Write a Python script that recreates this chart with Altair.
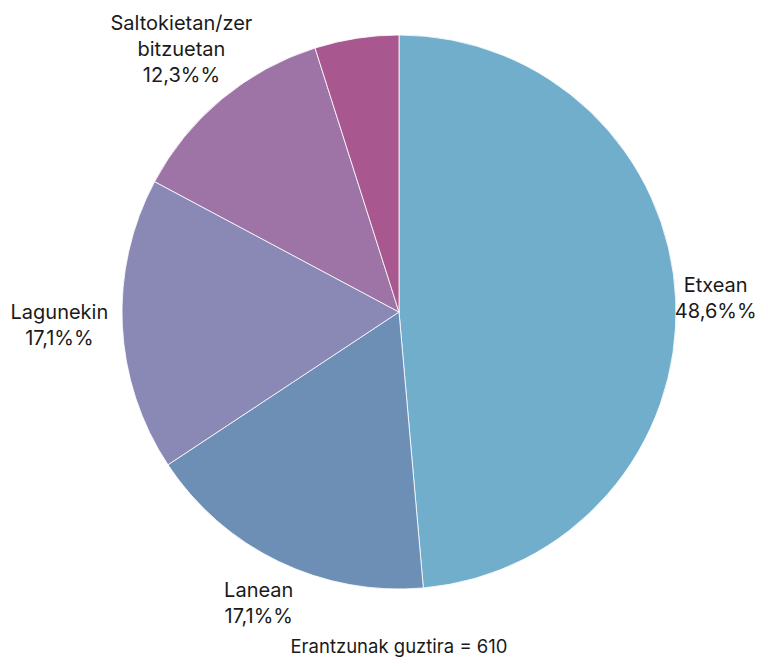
import altair as alt
import pandas as pd

categories = ["Etxean", "Lanean", "Lagunekin", "Saltokietan/zer bitzuetan", "Beste"]
values = [48.6, 17.1, 17.1, 12.3, 4.9]
labels = ["Etxean\n48,6%%", "Lanean\n17,1%%", "Lagunekin\n17,1%%", "Saltokietan/zer\nbitzuetan\n12,3%%", ""]
colors = ["#70AECB", "#6D8FB6", "#8A88B5", "#9E74A7", "#A8588E"]
footer = "Erantzunak guztira = 610"

df = pd.DataFrame({"cat": categories, "val": values, "label": labels, "order": list(range(len(categories)))})

FONT = "Inter"
cx, cy = 391, 304

base = alt.Chart(df).encode(
    theta=alt.Theta("val:Q", stack=True),
    order=alt.Order("order:Q"),
)

pie = base.mark_arc(stroke="white", strokeWidth=0.8, radius=277).encode(
    x=alt.value(cx),
    y=alt.value(cy),
    color=alt.Color("cat:N", scale=alt.Scale(domain=categories, range=colors), legend=None),
)

# per-label placement (radius, vertical shift) for the outside labels
placement = {0: (317, -12), 1: (323, -12), 2: (340, -15), 3: (340, -27)}

text_layers = []
for idx, (rad, dy) in placement.items():
    t = base.transform_calculate(
        shown=f"datum.order == {idx} ? datum.label : ''"
    ).mark_text(
        radius=rad, dy=dy, font=FONT, fontSize=20, lineBreak="\n", color="#1a1a1a",
        align="center", baseline="middle", lineHeight=26,
    ).encode(
        x=alt.value(cx),
        y=alt.value(cy),
        text="shown:N",
    )
    text_layers.append(t)

foot = alt.Chart(pd.DataFrame({"t": [footer]})).mark_text(
    font=FONT, fontSize=18.5, color="#1a1a1a", align="center", baseline="alphabetic"
).encode(x=alt.value(cx), y=alt.value(645), text="t:N")

chart = alt.layer(pie, *text_layers, foot).properties(
    width=752, height=650, autosize=alt.AutoSizeParams(type="none"), padding=0
).configure_view(stroke=None)

chart.save("out.html", embed_options={"renderer": "svg", "actions": False})
